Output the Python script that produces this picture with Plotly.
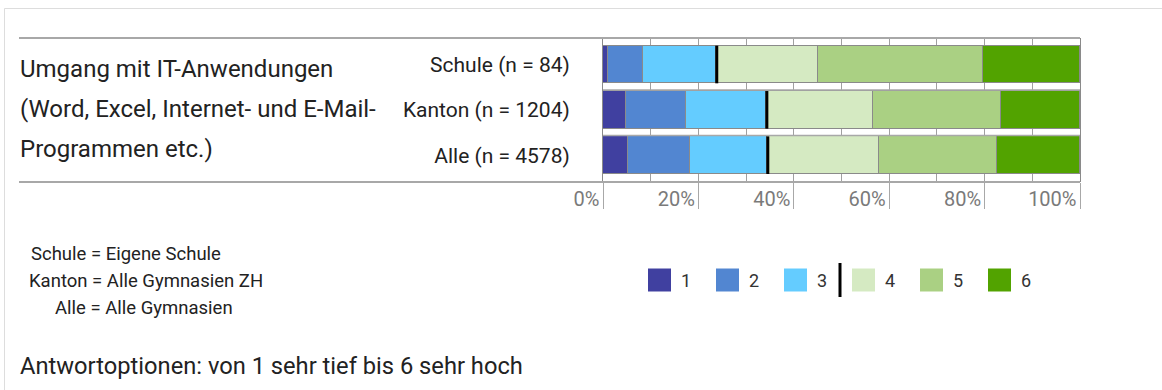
import plotly.graph_objects as go

# Survey item and response distributions (percent per answer option 1..6)
item_lines = ["Umgang mit IT-Anwendungen",
              "(Word, Excel, Internet- und E-Mail-",
              "Programmen etc.)"]
groups = ["Schule (n = 84)", "Kanton (n = 1204)", "Alle (n = 4578)"]
options = ["1", "2", "3", "4", "5", "6"]
schule = [1.1, 7.3, 15.2, 21.5, 34.6, 20.3]
kanton = [4.8, 12.5, 16.8, 22.6, 26.8, 16.5]
alle = [5.2, 13.0, 16.1, 23.6, 24.6, 17.5]
tick_values = [0, 20, 40, 60, 80, 100]
tick_labels = ["0%", "20%", "40%", "60%", "80%", "100%"]
footnotes = ["Schule = Eigene Schule", "Kanton = Alle Gymnasien ZH", "Alle = Alle Gymnasien"]
scale_note = "Antwortoptionen: von 1 sehr tief bis 6 sehr hoch"

colors = ["#4040A0", "#5286D1", "#64CCFF", "#D5EAC2", "#AAD083", "#52A300"]

W, H = 1162, 390
ML, MR, MT, MB = 603, 82, 38, 208
PW, PH = W - ML - MR, H - MT - MB
FONT = "Roboto"
BAR_W = 0.83


def px(x):
    return (x - ML) / PW


def py(y):
    return (H - MB - y) / PH


series = [schule, kanton, alle]
ypos = list(range(len(groups)))

fig = go.Figure()
for k, opt in enumerate(options):
    fig.add_trace(go.Bar(
        x=[s[k] for s in series],
        y=ypos,
        orientation="h",
        width=BAR_W,
        name=opt,
        marker=dict(color=colors[k], line=dict(color="#8a8a8a", width=1)),
        showlegend=False,
        hoverinfo="skip",
    ))

shapes = []
line_grey = "#a8a8a8"
# top and bottom rules reaching under the item text
for yy in (0, 1):
    shapes.append(dict(type="line", xref="paper", yref="paper",
                       x0=px(19), x1=1, y0=yy, y1=yy,
                       line=dict(color=line_grey, width=2)))
# separators between the group rows
for i in ypos[1:]:
    yy = i - BAR_W / 2 - 0.02
    shapes.append(dict(type="line", xref="paper", yref="y",
                       x0=0, x1=1, y0=yy, y1=yy,
                       line=dict(color=line_grey, width=1.5)))
# black marker just after the boundary between options 3 and 4
for i, s in enumerate(series):
    c = sum(s[:3]) + 0.25
    shapes.append(dict(type="line", xref="x", yref="y",
                       x0=c, x1=c, y0=i - BAR_W / 2, y1=i + BAR_W / 2,
                       line=dict(color="#000000", width=3)))
# light page frame
shapes.append(dict(type="rect", xref="paper", yref="paper",
                   x0=px(4.5), x1=px(W + 20), y0=py(8.5), y1=py(H + 20),
                   line=dict(color="#dddddd", width=1)))

annotations = []
# item text
for txt, yc in zip(item_lines, [69, 109, 149]):
    annotations.append(dict(text=txt, xref="paper", yref="paper",
                            x=px(18), y=py(yc), xanchor="left", yanchor="middle",
                            showarrow=False, font=dict(family=FONT, size=24, color="#222222")))

# legend built from swatches
leg_x0, leg_step, leg_y = 648, 68, 280
for k, opt in enumerate(options):
    x0 = leg_x0 + k * leg_step
    shapes.append(dict(type="rect", xref="paper", yref="paper",
                       x0=px(x0), x1=px(x0 + 23), y0=py(leg_y - 11.5), y1=py(leg_y + 11.5),
                       line=dict(width=0), fillcolor=colors[k]))
    annotations.append(dict(text=opt, xref="paper", yref="paper",
                            x=px(x0 + 31), y=py(leg_y), xanchor="left", yanchor="middle",
                            showarrow=False, font=dict(family=FONT, size=18, color="#333333")))
shapes.append(dict(type="line", xref="paper", yref="paper",
                   x0=px(840), x1=px(840), y0=py(263), y1=py(297),
                   line=dict(color="#000000", width=3)))

# footnotes
for txt, x0, yc in zip(footnotes, [29, 27, 53], [254, 281, 308]):
    annotations.append(dict(text=txt, xref="paper", yref="paper",
                            x=px(x0), y=py(yc), xanchor="left", yanchor="middle",
                            showarrow=False, font=dict(family=FONT, size=18.5, color="#222222")))

annotations.append(dict(text=scale_note, xref="paper", yref="paper",
                        x=px(18), y=py(366), xanchor="left", yanchor="middle",
                        showarrow=False, font=dict(family=FONT, size=23.7, color="#222222")))

top = -(64.5 - MT) / 45.35
fig.update_layout(
    width=W, height=H,
    margin=dict(l=ML, r=MR, t=MT, b=MB, pad=0),
    paper_bgcolor="white", plot_bgcolor="white",
    barmode="stack", bargap=0,
    font=dict(family=FONT),
    shapes=shapes,
    annotations=annotations,
    xaxis=dict(
        range=[0, 100], tickvals=tick_values, ticktext=tick_labels,
        showgrid=True, gridcolor="#a0a0a0", gridwidth=1,
        minor=dict(dtick=10, tick0=0, showgrid=True, gridcolor="#a0a0a0", gridwidth=1),
        zeroline=False, showline=False,
        ticks="outside", ticklen=26, tickcolor="#a8a8a8", tickwidth=1,
        ticklabelposition="outside left", ticklabelstandoff=-1, ticklabelshift=-3,
        tickfont=dict(family=FONT, size=20, color="#7a7a7a"),
        fixedrange=True,
    ),
    yaxis=dict(
        range=[top + PH / 45.35, top], tickvals=ypos, ticktext=groups,
        showgrid=False, zeroline=False,
        showline=True, mirror=True, linecolor="#8a8a8a", linewidth=1,
        ticks="", ticklabelstandoff=28,
        tickfont=dict(family=FONT, size=21, color="#222222"),
        fixedrange=True,
    ),
)

fig.write_html("out.html", config={"displayModeBar": False})
